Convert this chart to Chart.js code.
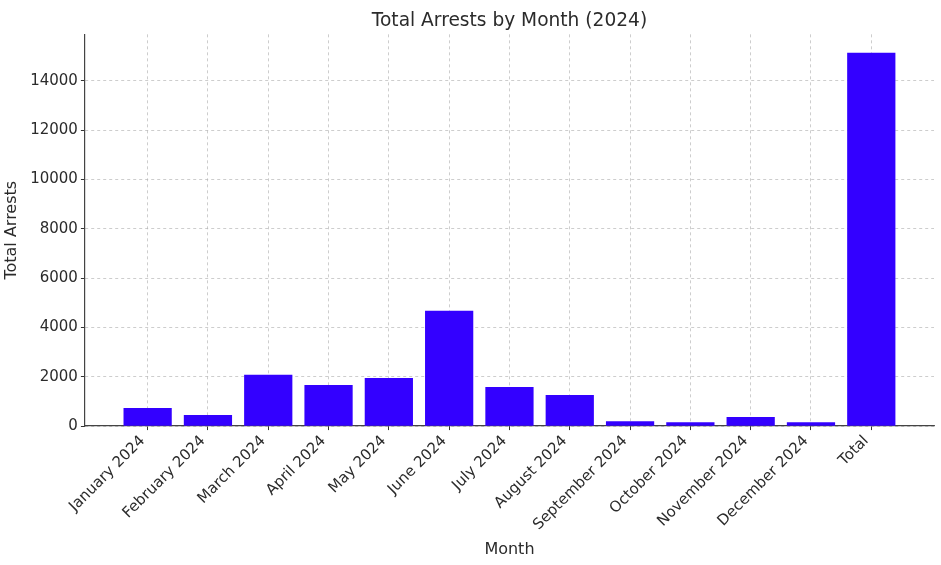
<!DOCTYPE html>
<html>
<head>
<meta charset="utf-8">
<script src="https://cdn.jsdelivr.net/npm/chart.js@4.4.1/dist/chart.umd.min.js"></script>
<style>
  html, body { margin: 0; padding: 0; background: #fff; }
  #wrap { width: 941px; height: 565px; }
</style>
</head>
<body>
<div id="wrap"><canvas id="arrestsChart"></canvas></div>
<script>
/* -------------------------------------------------------
   Data
------------------------------------------------------- */
const months = [
  'January 2024', 'February 2024', 'March 2024', 'April 2024',
  'May 2024', 'June 2024', 'July 2024', 'August 2024',
  'September 2024', 'October 2024', 'November 2024', 'December 2024', 'Total'
];
const arrests = [730, 450, 2080, 1670, 1950, 4680, 1590, 1260, 200, 160, 370, 160, 15140];
const yTicks = [0, 2000, 4000, 6000, 8000, 10000, 12000, 14000];

/* -------------------------------------------------------
   Defaults
------------------------------------------------------- */
Chart.defaults.font.family = "'DejaVu Sans', sans-serif";
Chart.defaults.font.size = 15;
Chart.defaults.color = '#2b2b2b';

const GRID = {
  offset: false,
  color: 'rgba(176,176,176,0.8)',
  lineWidth: 0.8,
  tickColor: '#333333',
  tickLength: 4,
  tickWidth: 1,
  tickBorderDash: [],
};

new Chart(document.getElementById('arrestsChart'), {
  type: 'bar',
  data: {
    datasets: [{
      label: 'Total Arrests',
      data: months.map((_, i) => ({ x: i, y: arrests[i] })),
      backgroundColor: '#3300ff',
      borderWidth: 0,
      barPercentage: 0.8,
      categoryPercentage: 1.0,
    }]
  },
  options: {
    responsive: true,
    maintainAspectRatio: false,
    animation: false,
    layout: { padding: { left: 2, right: 7, top: 0, bottom: 6 } },
    plugins: {
      legend: { display: false },
      tooltip: { enabled: false },
      title: {
        display: true,
        fullSize: false,
        text: 'Total Arrests by Month (2024)',
        font: { size: 18.6, weight: 'normal' },
        color: '#2b2b2b',
        padding: { top: 10, bottom: 2 },
      }
    },
    scales: {
      x: {
        type: 'linear',
        offset: false,
        min: -1.04,
        max: 13.04,
        z: 1,
        afterBuildTicks: axis => { axis.ticks = months.map((_, i) => ({ value: i })); },
        ticks: {
          autoSkip: false,
          minRotation: 45,
          maxRotation: 45,
          padding: 2,
          labelOffset: -5,
          callback: v => months[v],
        },
        grid: GRID,
        border: { display: true, color: '#444444', width: 1.2, dash: [3, 3] },
        title: { display: true, text: 'Month', font: { size: 16 }, padding: { top: 4, bottom: 0 } },
      },
      y: {
        min: 0,
        max: 15890,
        z: 1,
        afterBuildTicks: axis => { axis.ticks = yTicks.map(v => ({ value: v })); },
        ticks: { padding: 3, callback: v => String(v) },
        grid: GRID,
        border: { display: true, color: '#444444', width: 1.2, dash: [3, 3] },
        title: { display: true, text: 'Total Arrests', font: { size: 16 }, padding: { top: 0, bottom: 6 } },
      }
    }
  }
});
</script>
</body>
</html>
